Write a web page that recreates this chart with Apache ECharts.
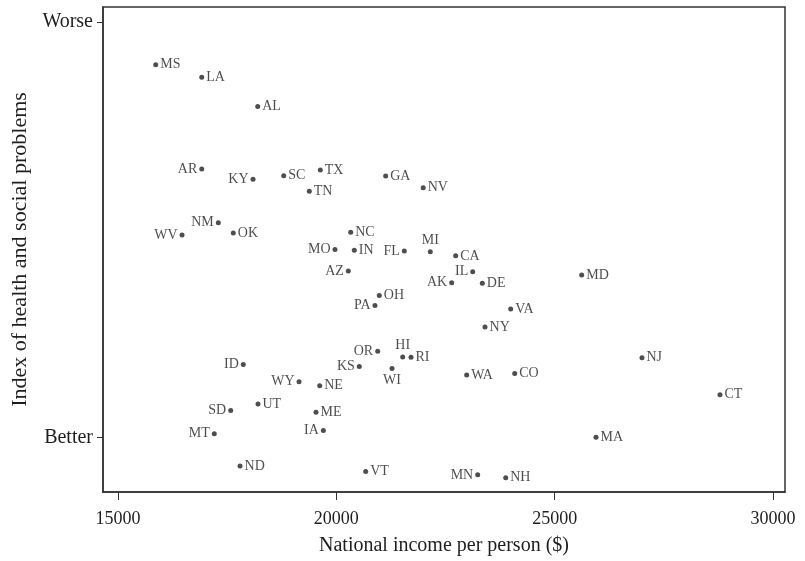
<!DOCTYPE html>
<html>
<head>
<meta charset="utf-8">
<script src="https://cdn.jsdelivr.net/npm/echarts@6/dist/echarts.min.js"></script>
<style>
  html, body { margin: 0; padding: 0; background: #ffffff; }
  #chart { width: 805px; height: 561px; }
</style>
</head>
<body>
<div id="chart"></div>
<script>
// ---- data ----
const states = ['MS','LA','AL','AR','KY','SC','TX','TN','GA','NV',
  'WV','NM','OK','NC','MO','IN','FL','MI','AZ','OH','PA',
  'CA','IL','AK','DE','MD','VA','NY',
  'OR','HI','RI','ID','KS','WI','WY','NE','UT','SD','ME','MT','IA','ND','VT',
  'WA','CO','NJ','CT','MA','MN','NH'];
const income = [15863,16917,18199,16917,18092,18795,19633,19381,21130,21989,
  16466,17297,17640,20329,19969,20411,21556,22152,20274,20984,20885,
  22733,23123,22642,23343,25619,23993,23405,
  20947,21520,21710,17869,20526,21275,19145,19619,18206,17581,19534,17205,19702,17794,20672,
  22985,24085,27000,28786,25947,23237,23879];
const problems = [2.089,1.967,1.687,1.084,0.985,1.020,1.074,0.870,1.017,0.904,
  0.449,0.567,0.468,0.474,0.309,0.302,0.294,0.287,0.101,-0.134,-0.230,
  0.248,0.095,-0.010,-0.017,0.063,-0.263,-0.438,
  -0.670,-0.725,-0.728,-0.799,-0.818,-0.837,-0.964,-1.002,-1.178,-1.242,-1.258,-1.465,-1.433,-1.775,-1.828,
  -0.900,-0.885,-0.734,-1.089,-1.500,-1.861,-1.889];
const xTicks = [15000, 20000, 25000, 30000];
const yTickValues = [2.5, -1.5];
const yTickLabels = ['Worse', 'Better'];

// ---- label placement (style) ----
const labelSide = {
  AR:'left', KY:'left', WV:'left', NM:'left', MO:'left', FL:'left', AZ:'left',
  AK:'left', PA:'left', OR:'left', ID:'left', KS:'left', WY:'left', SD:'left',
  MT:'left', IA:'left', MN:'left', IL:'left', MI:'top', HI:'top', WI:'bottom'
};
const labelOffset = { IL:[0,-4], MI:[0,2], HI:[0,3], WI:[0,-2], OH:[0,-1] };

const FONT = '"Liberation Serif", "DejaVu Serif", serif';
const INK = '#1e1e1e';

const points = states.map((s, i) => ({
  name: s,
  value: [income[i], problems[i]],
  label: {
    position: labelSide[s] || 'right',
    offset: labelOffset[s] || [0, 0],
    distance: 2
  }
}));

const chart = echarts.init(document.getElementById('chart'), null, { renderer: 'canvas' });
chart.setOption({
  backgroundColor: '#ffffff',
  animation: false,
  grid: {
    left: 103, right: 20, top: 7, bottom: 66,
    show: true, borderColor: '#333', borderWidth: 1.5, backgroundColor: 'transparent'
  },
  xAxis: {
    type: 'value',
    min: 14656, max: 30275,
    name: 'National income per person ($)',
    nameLocation: 'middle',
    nameGap: 44,
    nameTextStyle: { fontFamily: FONT, fontSize: 20, color: INK },
    axisLine: { show: true, onZero: false, lineStyle: { color: '#333', width: 1.5 } },
    axisTick: { show: true, inside: false, length: 8, customValues: xTicks, lineStyle: { color: '#333', width: 1 } },
    axisLabel: { customValues: xTicks, margin: 18, fontFamily: FONT, fontSize: 18, color: INK,
      formatter: v => String(v) },
    splitLine: { show: false }
  },
  yAxis: {
    type: 'value',
    min: -2.026, max: 2.644,
    name: 'Index of health and social problems',
    nameLocation: 'middle',
    nameGap: 72,
    nameRotate: 90,
    nameTextStyle: { fontFamily: FONT, fontSize: 22, color: INK },
    axisLine: { show: true, onZero: false, lineStyle: { color: '#333', width: 1.5 } },
    axisTick: { show: true, inside: false, length: 6, customValues: yTickValues, lineStyle: { color: '#333', width: 1 } },
    axisLabel: {
      customValues: yTickValues, margin: 10, fontFamily: FONT, fontSize: 20, color: INK,
      formatter: v => {
        const k = yTickValues.findIndex(t => Math.abs(t - v) < 1e-6);
        return k >= 0 ? yTickLabels[k] : '';
      }
    },
    splitLine: { show: false }
  },
  series: [{
    type: 'scatter',
    symbol: 'circle',
    symbolSize: 5,
    itemStyle: { color: '#222' },
    label: {
      show: true,
      formatter: p => p.name,
      fontFamily: FONT,
      fontSize: 14,
      color: INK
    },
    labelLayout: { hideOverlap: false },
    data: points
  }]
});
</script>
</body>
</html>
